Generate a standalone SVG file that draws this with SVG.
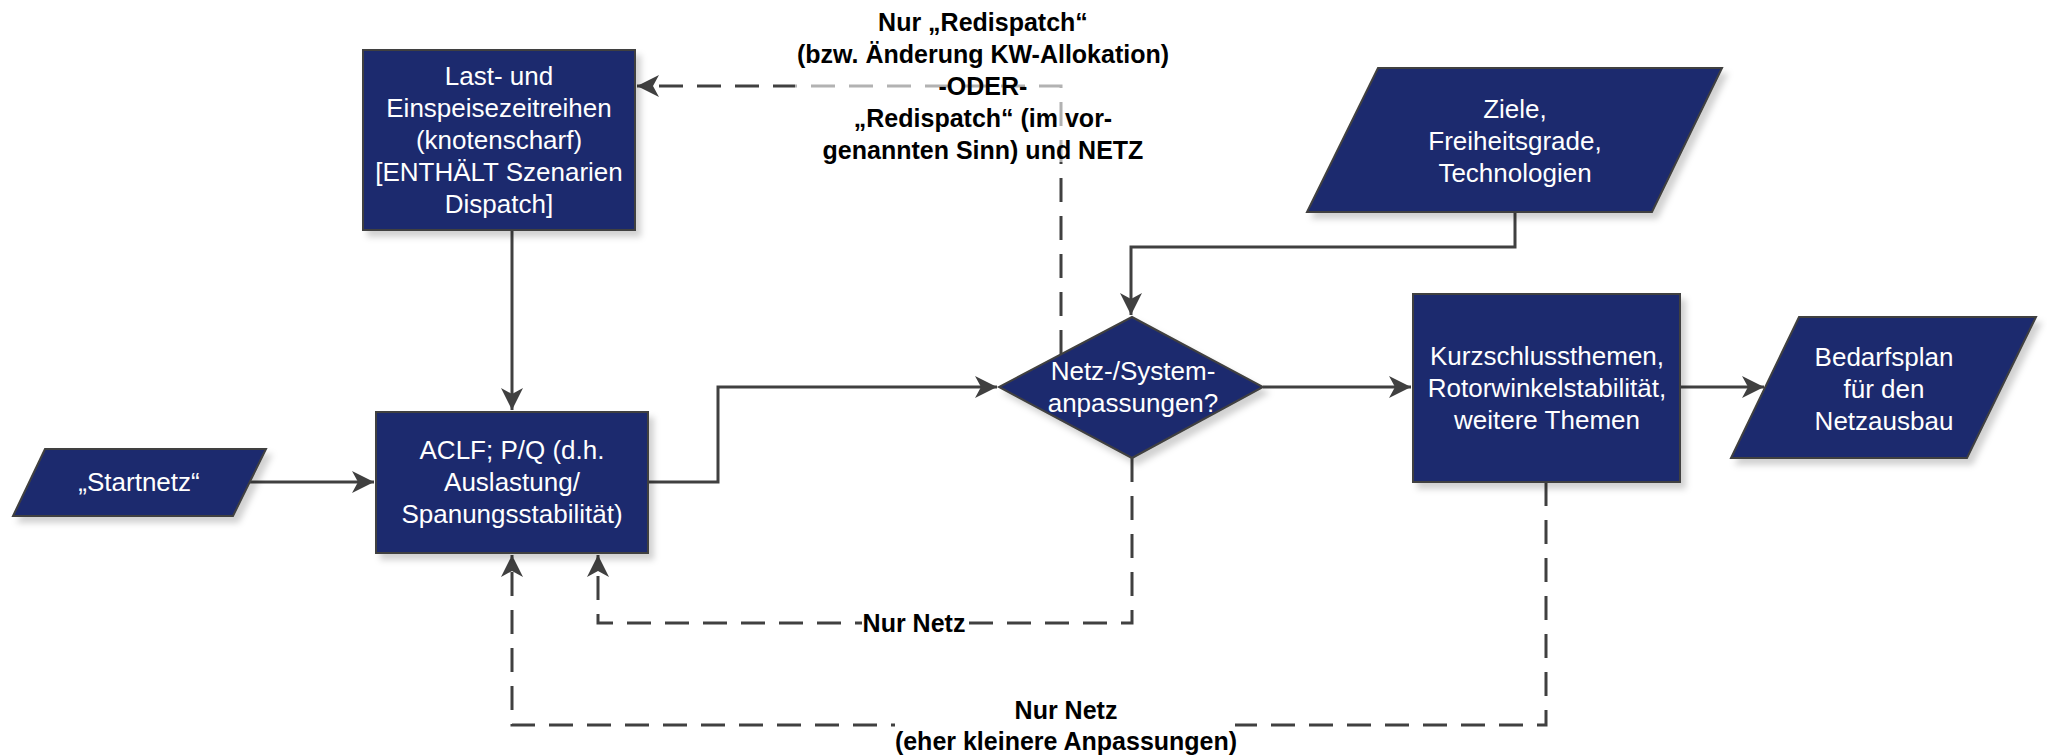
<svg xmlns="http://www.w3.org/2000/svg" width="2047" height="756" viewBox="0 0 2047 756">
<defs>
<style>
.node{fill:#1f2b6e;stroke:#404040;stroke-width:2;filter:url(#sh)}
.nt{font-family:"Liberation Sans",Arial,sans-serif;font-size:26px;fill:#ffffff;text-anchor:middle}
.lb{font-family:"Liberation Sans",Arial,sans-serif;font-size:25px;font-weight:bold;fill:#000000;text-anchor:middle}
.c{fill:none;stroke:#404040;stroke-width:3}
.d{fill:none;stroke:#404040;stroke-width:3;stroke-dasharray:24 14}
</style>
<filter id="sh" x="-10%" y="-10%" width="130%" height="130%">
<feDropShadow dx="5" dy="6" stdDeviation="3" flood-color="#000000" flood-opacity="0.18"/>
</filter>
<marker id="ah" markerUnits="userSpaceOnUse" markerWidth="24" markerHeight="24" viewBox="0 0 24 24" refX="22" refY="12" orient="auto">
<path d="M0,1 L22,12 L0,23 L6,12 Z" fill="#404040"/>
</marker>
</defs>
<rect width="2047" height="756" fill="#ffffff"/>

<g id="connectors">
<path class="c" d="M250,482 H374" marker-end="url(#ah)"/>
<path class="c" d="M512,230 V410" marker-end="url(#ah)"/>
<path class="c" d="M648,482 H718 V387 H997" marker-end="url(#ah)"/>
<path class="c" d="M1515,212 V247 H1131 V315" marker-end="url(#ah)"/>
<path class="c" d="M1263,387 H1411" marker-end="url(#ah)"/>
<path class="c" d="M1680,387 H1764" marker-end="url(#ah)"/>
<path class="d" d="M1061,354 V86 H637" marker-end="url(#ah)"/>
<path class="d" d="M1132,458 V623 H598 V555" marker-end="url(#ah)"/>
<path class="d" d="M1546,482 V725 H512 V555" marker-end="url(#ah)"/>
</g>

<g id="label-top">
<rect x="795" y="2" width="377" height="160" fill="#ffffff" fill-opacity="0.6"/>
<text class="lb" x="983" y="31">Nur „Redispatch“</text>
<text class="lb" x="983" y="63">(bzw. Änderung KW-Allokation)</text>
<text class="lb" x="983" y="95">-ODER-</text>
<text class="lb" x="983" y="127">„Redispatch“ (im vor-</text>
<text class="lb" x="983" y="159">genannten Sinn) und NETZ</text>
</g>

<g id="label-inner">
<rect x="862" y="610" width="104" height="27" fill="#ffffff"/>
<text class="lb" x="914" y="632">Nur Netz</text>
</g>

<g id="label-outer">
<rect x="895" y="698" width="340" height="58" fill="#ffffff"/>
<text class="lb" x="1066" y="719">Nur Netz</text>
<text class="lb" x="1066" y="750">(eher kleinere Anpassungen)</text>
</g>

<g id="n-last">
<rect class="node" x="363" y="50" width="272" height="180"/>
<text class="nt" x="499" y="85">Last- und</text>
<text class="nt" x="499" y="117">Einspeisezeitreihen</text>
<text class="nt" x="499" y="149">(knotenscharf)</text>
<text class="nt" x="499" y="181">[ENTHÄLT Szenarien</text>
<text class="nt" x="499" y="213">Dispatch]</text>
</g>

<g id="n-startnetz">
<polygon class="node" points="45,449 266,449 233,516 13,516"/>
<text class="nt" x="139" y="491">„Startnetz“</text>
</g>

<g id="n-aclf">
<rect class="node" x="376" y="412" width="272" height="141"/>
<text class="nt" x="512" y="459">ACLF; P/Q (d.h.</text>
<text class="nt" x="512" y="491">Auslastung/</text>
<text class="nt" x="512" y="523">Spanungsstabilität)</text>
</g>

<g id="n-ziele">
<polygon class="node" points="1378,68 1722,68 1652,212 1307,212"/>
<text class="nt" x="1515" y="118">Ziele,</text>
<text class="nt" x="1515" y="150">Freiheitsgrade,</text>
<text class="nt" x="1515" y="182">Technologien</text>
</g>

<g id="n-decision">
<polygon class="node" points="1132,317 1263,387 1132,458 999,387"/>
<text class="nt" x="1133" y="380">Netz-/System-</text>
<text class="nt" x="1133" y="412">anpassungen?</text>
</g>

<g id="n-kurz">
<rect class="node" x="1413" y="294" width="267" height="188"/>
<text class="nt" x="1547" y="365">Kurzschlussthemen,</text>
<text class="nt" x="1547" y="397">Rotorwinkelstabilität,</text>
<text class="nt" x="1547" y="429">weitere Themen</text>
</g>

<g id="n-bedarf">
<polygon class="node" points="1799,317 2036,317 1967,458 1731,458"/>
<text class="nt" x="1884" y="366">Bedarfsplan</text>
<text class="nt" x="1884" y="398">für den</text>
<text class="nt" x="1884" y="430">Netzausbau</text>
</g>
</svg>
